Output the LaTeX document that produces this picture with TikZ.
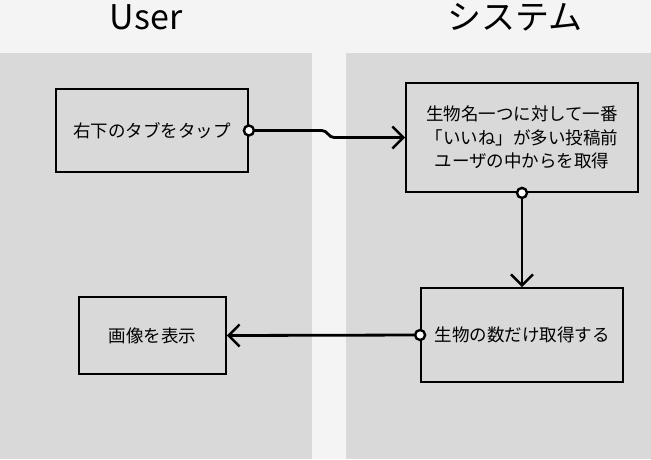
\documentclass[tikz,border=0pt]{standalone}
\usepackage{fontspec}
\setmainfont{Noto Sans CJK JP}
\usetikzlibrary{arrows.meta}
\definecolor{bgc}{HTML}{F4F4F4}
\definecolor{lanec}{HTML}{D9D9D9}
\tikzset{
  procbox/.style={draw=black, line width=1.8pt, fill=lanec, align=center, inner sep=0pt,
    font=\fontsize{17.5}{23.5}\selectfont},
  conn/.style={line width=2.8pt, line cap=round, line join=round},
  tip/.style={-{Straight Barb[length=11pt,width=22pt,line width=2.4pt]}},
  dot/.style={circle, draw=black, fill=white, line width=2.4pt, minimum size=10pt, inner sep=0pt},
  header/.style={font=\fontsize{34}{40}\selectfont, anchor=center}
}
\begin{document}
\begin{tikzpicture}[x=1pt,y=-1pt]
\useasboundingbox (0,0) rectangle (651,459);
\fill[bgc] (0,0) rectangle (651,459);
\fill[lanec] (0,53) rectangle (312,459);
\fill[lanec] (346,53) rectangle (651,459);
\node[header] (hu) at (146,17) {User};
\node[header] (hs) at (515,17) {システム};

\node[procbox, minimum width=192pt, minimum height=83pt] (b1) at (152,130.5) {右下のタブをタップ};
\node[procbox, minimum width=232pt, minimum height=109pt] (b2) at (522,137.5) {生物名一つに対して一番\\「いいね」が多い投稿前\\ユーザの中からを取得};
\node[procbox, minimum width=202pt, minimum height=94pt] (b3) at (522,335) {生物の数だけ取得する};
\node[procbox, minimum width=147pt, minimum height=77pt] (b4) at (152.5,335.5) {画像を表示};

\coordinate (j1) at (322,130.5);
\coordinate (j2) at (334,137.5);
\draw[conn, tip] (b1.east) -- (j1) to[out=0,in=180] (j2) -- (b2.west);
\draw[conn, tip] (b2.south) -- (b3.north);
\draw[conn, tip] (b3.west) -- (b4.east);

\node[dot] (d1) at (b1.east) {};
\node[dot] (d2) at (b2.south) {};
\node[dot] (d3) at (b3.west) {};
\end{tikzpicture}
\end{document}
